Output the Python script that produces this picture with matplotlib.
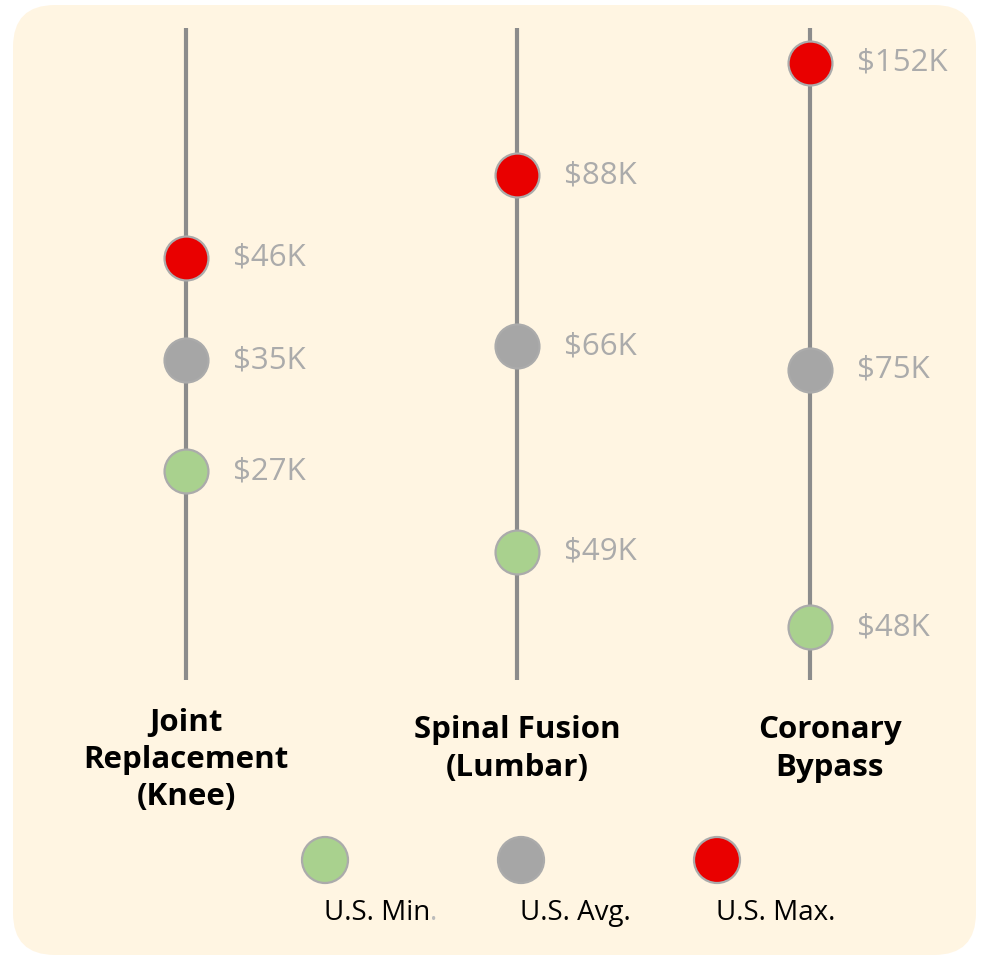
import numpy as np
import matplotlib
matplotlib.use("Agg")
import matplotlib.pyplot as plt
from matplotlib.patches import FancyBboxPatch, Circle

plt.rcParams['font.family'] = ['Open Sans', 'DejaVu Sans']

# ---- data ----
procedures = ["Joint\nReplacement\n(Knee)", "Spinal Fusion\n(Lumbar)", "Coronary\nBypass"]
us_min = [27, 49, 48]
us_avg = [35, 66, 75]
us_max = [46, 88, 152]
series_names = ["U.S. Min", "U.S. Avg.", "U.S. Max."]

# ---- styles ----
W, H = 981, 960
DPI = 100
BG = "#FFF5E2"
COL_MIN = "#A9D18E"
COL_AVG = "#A6A6A6"
COL_MAX = "#E90000"
EDGE = "#ABABAB"
LINE = "#8C8C8C"
VAL_TXT = "#ABABAB"

col_px = [186, 517, 810]
ylims = [(17.9, 101.8), (41.5, 117.1), (44.3, 167.7)]
line_top, line_bot = 28, 680

fig = plt.figure(figsize=(W / DPI, H / DPI), dpi=DPI, facecolor="white")

# background panel in pixel coords
bg_ax = fig.add_axes([0, 0, 1, 1])
bg_ax.set_xlim(0, W)
bg_ax.set_ylim(H, 0)
bg_ax.axis("off")
bg_ax.add_patch(FancyBboxPatch((13, 5), 963, 950,
                               boxstyle="round,pad=0,rounding_size=42",
                               fc=BG, ec="none"))


def fwd(v):
    v = np.asarray(v, dtype=float)
    return -1.0 / np.sqrt(np.clip(v, 1e-6, None))


def inv(t):
    t = np.asarray(t, dtype=float)
    return 1.0 / np.clip(t, None, -1e-6) ** 2


half = 110
for i, cx in enumerate(col_px):
    ax = fig.add_axes([(cx - half) / W, (H - line_bot) / H,
                       2 * half / W, (line_bot - line_top) / H])
    ax.set_yscale('function', functions=(fwd, inv))
    ax.set_xlim(-1, 1)
    ax.set_ylim(*ylims[i])
    ax.axis("off")
    ax.axvline(0, color=LINE, lw=3.0, zorder=1, solid_capstyle="butt")
    for vals, col in ((us_max, COL_MAX), (us_avg, COL_AVG), (us_min, COL_MIN)):
        v = vals[i]
        ax.scatter([0], [v], s=1000, color=col, edgecolors=EDGE,
                   linewidths=1.6, zorder=3, clip_on=False)
        ax.annotate(f"${v}K", xy=(0, v), xytext=(33.5, 0),
                    textcoords="offset points", ha="left", va="center",
                    fontsize=22.5, color=VAL_TXT, annotation_clip=False)

# category labels
label_pos = [(186, 760), (517, 749), (830, 749)]
for name, (x, y) in zip(procedures, label_pos):
    bg_ax.text(x, y, name, ha="center", va="center", fontsize=22.5,
               fontweight="bold", color="black", linespacing=1.32)

# legend
leg_x = [325, 521, 717]
leg_cols = [COL_MIN, COL_AVG, COL_MAX]
for j, (x, c, name) in enumerate(zip(leg_x, leg_cols, series_names)):
    bg_ax.add_patch(Circle((x, 860), 23, fc=c, ec=EDGE, lw=1.6))
    t = bg_ax.text(x - 1, 913, name, ha="left", va="center",
                   fontsize=20, color="black")
    if j == 0:
        bg_ax.annotate(".", xy=(1, 0), xycoords=t, ha="left", va="bottom",
                       fontsize=20, color="#BBBBBB")

fig.savefig("out.png", dpi=DPI, facecolor="white")
